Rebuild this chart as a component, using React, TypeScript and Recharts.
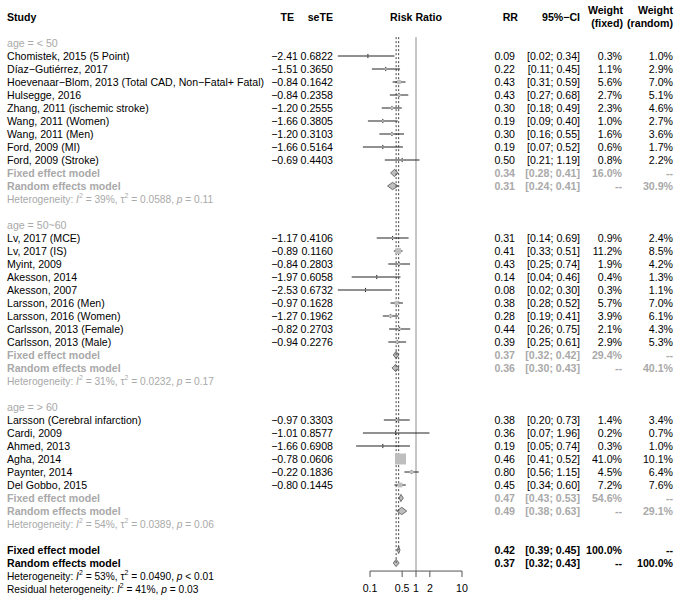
import React from "react";
import { ComposedChart, XAxis, YAxis, ZAxis, Scatter, ErrorBar, Area, ReferenceLine } from "recharts";

// study level values (as printed in the forest plot)
const studyNames = [
  "Chomistek, 2015 (5 Point)",
  "Díaz−Gutiérrez, 2017",
  "Hoevenaar−Blom, 2013 (Total CAD, Non−Fatal+ Fatal)",
  "Hulsegge, 2016",
  "Zhang, 2011 (ischemic stroke)",
  "Wang, 2011 (Women)",
  "Wang, 2011 (Men)",
  "Ford, 2009 (MI)",
  "Ford, 2009 (Stroke)",
  "Lv, 2017 (MCE)",
  "Lv, 2017 (IS)",
  "Myint, 2009",
  "Akesson, 2014",
  "Akesson, 2007",
  "Larsson, 2016 (Men)",
  "Larsson, 2016 (Women)",
  "Carlsson, 2013 (Female)",
  "Carlsson, 2013 (Male)",
  "Larsson (Cerebral infarction)",
  "Cardi, 2009",
  "Ahmed, 2013",
  "Agha, 2014",
  "Paynter, 2014",
  "Del Gobbo, 2015",
];
const teValues = [-2.41, -1.51, -0.84, -0.84, -1.2, -1.66, -1.2, -1.66, -0.69, -1.17, -0.89, -0.84, -1.97, -2.53, -0.97, -1.27, -0.82, -0.94, -0.97, -1.01, -1.66, -0.78, -0.22, -0.8];
const seTeValues = ["0.6822", "0.3650", "0.1642", "0.2358", "0.2555", "0.3805", "0.3103", "0.5164", "0.4403", "0.4106", "0.1160", "0.2803", "0.6058", "0.6732", "0.1628", "0.1962", "0.2703", "0.2276", "0.3303", "0.8577", "0.6908", "0.0606", "0.1836", "0.1445"];
const rrValues = [0.09, 0.22, 0.43, 0.43, 0.3, 0.19, 0.3, 0.19, 0.5, 0.31, 0.41, 0.43, 0.14, 0.08, 0.38, 0.28, 0.44, 0.39, 0.38, 0.36, 0.19, 0.46, 0.8, 0.45];
const ciLower = [0.02, 0.11, 0.31, 0.27, 0.18, 0.09, 0.16, 0.07, 0.21, 0.14, 0.33, 0.25, 0.04, 0.02, 0.28, 0.19, 0.26, 0.25, 0.2, 0.07, 0.05, 0.41, 0.56, 0.34];
const ciUpper = [0.34, 0.45, 0.59, 0.68, 0.49, 0.4, 0.55, 0.52, 1.19, 0.69, 0.51, 0.74, 0.46, 0.3, 0.52, 0.41, 0.75, 0.61, 0.73, 1.96, 0.74, 0.52, 1.15, 0.6];
const weightFixed = [0.3, 1.1, 5.6, 2.7, 2.3, 1.0, 1.6, 0.6, 0.8, 0.9, 11.2, 1.9, 0.4, 0.3, 5.7, 3.9, 2.1, 2.9, 1.4, 0.2, 0.3, 41.0, 4.5, 7.2];
const weightRandom = [1.0, 2.9, 7.0, 5.1, 4.6, 2.7, 3.6, 1.7, 2.2, 2.4, 8.5, 4.2, 1.3, 1.1, 7.0, 6.1, 4.3, 5.3, 3.4, 0.7, 1.0, 10.1, 6.4, 7.6];

// subgroups
const groupLabels = ["age = < 50", "age = 50~60", "age = > 60"];
const groupSizes = [9, 9, 6];
const groupFixedRR = [0.34, 0.37, 0.47];
const groupFixedLower = [0.28, 0.32, 0.43];
const groupFixedUpper = [0.41, 0.42, 0.53];
const groupFixedWeight = [16.0, 29.4, 54.6];
const groupRandomRR = [0.31, 0.36, 0.49];
const groupRandomLower = [0.24, 0.3, 0.38];
const groupRandomUpper = [0.41, 0.43, 0.63];
const groupRandomWeight = [30.9, 40.1, 29.1];
const groupI2 = ["39%", "31%", "54%"];
const groupTau2 = ["0.0588", "0.0232", "0.0389"];
const groupP = ["= 0.11", "= 0.17", "= 0.06"];

// overall
const overallFixed = [0.42, 0.39, 0.45];
const overallRandom = [0.37, 0.32, 0.43];
const overallHet = ["53%", "0.0490", "< 0.01"];
const residualHet = ["41%", "= 0.03"];

const axisTicks = [0.1, 0.5, 1, 2, 10];

// layout
const W = 676;
const H = 598;
const ROW_H = 13;
const FIRST_Y = 17;
const Y_MIN = -FIRST_Y / ROW_H;
const Y_MAX = Y_MIN + H / ROW_H;
const PLOT_LEFT = 324;
const PLOT_RIGHT = 462;
const X_MIN = 0.01;
const X_MAX = 10;
const PX_PER_DECADE = (PLOT_RIGHT - PLOT_LEFT) / Math.log10(X_MAX / X_MIN);
const MAX_SQUARE = 11;
const LINE_TOP = 1.55;
const AXIS_R = 42.62;
const DIAMOND_H = 0.28;

const FONT = "'Liberation Sans', Arial, Helvetica, sans-serif";
const FS = 10.6;
const HET_FS = 10.2;
const GREY = "#a9a9a9";

type Row = { r: number; kind: string; i?: number; g?: number };

const rows: Row[] = [{ r: 0, kind: "header" }];
{
  let r = 2;
  let s = 0;
  groupSizes.forEach((n, g) => {
    rows.push({ r: r++, kind: "group", g });
    for (let k = 0; k < n; k++) rows.push({ r: r++, kind: "study", i: s++ });
    rows.push({ r: r++, kind: "fixed", g });
    rows.push({ r: r++, kind: "random", g });
    rows.push({ r: r++, kind: "het", g });
    r++;
  });
  rows.push({ r: r++, kind: "ofixed" });
  rows.push({ r: r++, kind: "orandom" });
  rows.push({ r: r++, kind: "ohet" });
  rows.push({ r: r++, kind: "resid" });
}
const rowByIndex = new Map(rows.map((row) => [row.r, row]));
const rowTicks = rows.map((row) => row.r);

const studyPoints = rows
  .filter((row) => row.kind === "study")
  .map((row) => {
    const i = row.i as number;
    const side = MAX_SQUARE * Math.sqrt(weightFixed[i] / 41);
    const ciPx = PX_PER_DECADE * Math.log10(ciUpper[i] / ciLower[i]);
    return {
      x: rrValues[i],
      y: row.r,
      w: weightFixed[i],
      ciErr: [rrValues[i] - ciLower[i], ciUpper[i] - rrValues[i]],
      tickErr: [0.16, 0.16],
      inside: ciPx < side,
    };
  });

function diamond(est: number, lo: number, hi: number, r: number) {
  return [
    { x: lo, band: [r, r] },
    { x: est, band: [r - DIAMOND_H, r + DIAMOND_H] },
    { x: hi, band: [r, r] },
  ];
}

const diamonds: { x: number; band: number[] }[][] = [];
rows.forEach((row) => {
  if (row.kind === "fixed") {
    const g = row.g as number;
    diamonds.push(diamond(groupFixedRR[g], groupFixedLower[g], groupFixedUpper[g], row.r));
  } else if (row.kind === "random") {
    const g = row.g as number;
    diamonds.push(diamond(groupRandomRR[g], groupRandomLower[g], groupRandomUpper[g], row.r));
  } else if (row.kind === "ofixed") {
    diamonds.push(diamond(overallFixed[0], overallFixed[1], overallFixed[2], row.r));
  } else if (row.kind === "orandom") {
    diamonds.push(diamond(overallRandom[0], overallRandom[1], overallRandom[2], row.r));
  }
});

const fmtTE = (v: number) => (v < 0 ? "−" : "") + Math.abs(v).toFixed(2);
const fmtCI = (lo: number, hi: number) => `[${lo.toFixed(2)}; ${hi.toFixed(2)}]`;
const fmtW = (w: number) => `${w.toFixed(1)}%`;

function HetText({ y, i2, tau2, p, color }: { y: number; i2: string; tau2?: string; p: string; color: string }) {
  const sup = HET_FS * 0.68;
  const up = HET_FS * 0.4;
  return (
    <text x={7} y={y} dy="0.35em" fontSize={HET_FS} fill={color} fontFamily={FONT}>
      <tspan>{tau2 === undefined ? "Residual heterogeneity: " : "Heterogeneity: "}</tspan>
      <tspan fontStyle="italic">I</tspan>
      <tspan dy={-up} fontSize={sup}>2</tspan>
      <tspan dy={up}>{` = ${i2}, `}</tspan>
      {tau2 !== undefined && (
        <>
          <tspan>τ</tspan>
          <tspan dy={-up} fontSize={sup}>2</tspan>
          <tspan dy={up}>{` = ${tau2}, `}</tspan>
        </>
      )}
      <tspan fontStyle="italic">p</tspan>
      <tspan>{` ${p}`}</tspan>
    </text>
  );
}

function T(props: any) {
  const { children, ...rest } = props;
  return (
    <text dy="0.35em" fontSize={FS} fontFamily={FONT} fill="#000" {...rest}>
      {children}
    </text>
  );
}

function LeftTick({ y, payload }: any) {
  const row = rowByIndex.get(payload.value);
  if (!row) return null;
  switch (row.kind) {
    case "header":
      return (
        <g>
          <T x={7} y={y} fontWeight="bold">Study</T>
          <T x={294} y={y} textAnchor="end" fontWeight="bold">TE</T>
          <T x={333} y={y} textAnchor="end" fontWeight="bold">seTE</T>
          <T x={416} y={y} textAnchor="middle" fontWeight="bold">Risk Ratio</T>
        </g>
      );
    case "group":
      return <T x={7} y={y} fill={GREY}>{groupLabels[row.g as number]}</T>;
    case "study": {
      const i = row.i as number;
      return (
        <g>
          <T x={7} y={y}>{studyNames[i]}</T>
          <T x={298} y={y} textAnchor="end">{fmtTE(teValues[i])}</T>
          <T x={333} y={y} textAnchor="end">{seTeValues[i]}</T>
        </g>
      );
    }
    case "fixed":
      return <T x={7} y={y} fill={GREY} fontWeight="bold">Fixed effect model</T>;
    case "random":
      return <T x={7} y={y} fill={GREY} fontWeight="bold">Random effects model</T>;
    case "het": {
      const g = row.g as number;
      return <HetText y={y} i2={groupI2[g]} tau2={groupTau2[g]} p={groupP[g]} color={GREY} />;
    }
    case "ofixed":
      return <T x={7} y={y} fontWeight="bold">Fixed effect model</T>;
    case "orandom":
      return <T x={7} y={y} fontWeight="bold">Random effects model</T>;
    case "ohet":
      return <HetText y={y} i2={overallHet[0]} tau2={overallHet[1]} p={overallHet[2]} color="#000" />;
    case "resid":
      return <HetText y={y} i2={residualHet[0]} p={residualHet[1]} color="#000" />;
  }
  return null;
}

function RightTick({ y, payload }: any) {
  const row = rowByIndex.get(payload.value);
  if (!row) return null;
  const cols = (rr: number, lo: number, hi: number, wf: string, wr: string, fill: string, bold: boolean) => (
    <g fontWeight={bold ? "bold" : "normal"}>
      <T x={515} y={y} textAnchor="end" fill={fill}>{rr.toFixed(2)}</T>
      <T x={580} y={y} textAnchor="end" fill={fill}>{fmtCI(lo, hi)}</T>
      <T x={622} y={y} textAnchor="end" fill={fill}>{wf}</T>
      <T x={673} y={y} textAnchor="end" fill={fill}>{wr}</T>
    </g>
  );
  switch (row.kind) {
    case "header":
      return (
        <g fontWeight="bold">
          <T x={518} y={y} textAnchor="end">RR</T>
          <T x={580} y={y} textAnchor="end">95%−CI</T>
          <T x={623} y={y - 7} textAnchor="end">Weight</T>
          <T x={623} y={y + 6} textAnchor="end">(fixed)</T>
          <T x={673} y={y - 7} textAnchor="end">Weight</T>
          <T x={673} y={y + 6} textAnchor="end">(random)</T>
        </g>
      );
    case "study": {
      const i = row.i as number;
      return cols(rrValues[i], ciLower[i], ciUpper[i], fmtW(weightFixed[i]), fmtW(weightRandom[i]), "#000", false);
    }
    case "fixed": {
      const g = row.g as number;
      return cols(groupFixedRR[g], groupFixedLower[g], groupFixedUpper[g], fmtW(groupFixedWeight[g]), "--", GREY, true);
    }
    case "random": {
      const g = row.g as number;
      return cols(groupRandomRR[g], groupRandomLower[g], groupRandomUpper[g], "--", fmtW(groupRandomWeight[g]), GREY, true);
    }
    case "ofixed":
      return cols(overallFixed[0], overallFixed[1], overallFixed[2], "100.0%", "--", "#000", true);
    case "orandom":
      return cols(overallRandom[0], overallRandom[1], overallRandom[2], "--", "100.0%", "#000", true);
  }
  return null;
}

const Nothing = () => <g />;

export default function App() {
  const outside = studyPoints.filter((p) => !p.inside);
  const inside = studyPoints.filter((p) => p.inside);
  return (
    <div style={{ position: "absolute", left: 0, top: 0, width: W, height: H, background: "#fff" }}>
      <ComposedChart width={W} height={H} margin={{ top: 0, right: 0, bottom: 0, left: 0 }}>
        <XAxis dataKey="x" type="number" scale="log" domain={[X_MIN, X_MAX]} allowDataOverflow hide />
        <YAxis
          yAxisId="left"
          dataKey="y"
          type="number"
          reversed
          domain={[Y_MIN, Y_MAX]}
          allowDataOverflow
          ticks={rowTicks}
          interval={0}
          width={PLOT_LEFT}
          axisLine={false}
          tickLine={false}
          tick={<LeftTick />}
        />
        <YAxis
          yAxisId="right"
          orientation="right"
          type="number"
          reversed
          domain={[Y_MIN, Y_MAX]}
          allowDataOverflow
          ticks={rowTicks}
          interval={0}
          width={W - PLOT_RIGHT}
          axisLine={false}
          tickLine={false}
          tick={<RightTick />}
        />
        <ZAxis dataKey="w" type="number" domain={[0, 41]} range={[0, MAX_SQUARE * MAX_SQUARE]} />

        <ReferenceLine yAxisId="left" segment={[{ x: 1, y: LINE_TOP }, { x: 1, y: AXIS_R }]} stroke="#8c8c8c" strokeWidth={1} />
        <ReferenceLine yAxisId="left" segment={[{ x: overallFixed[0], y: LINE_TOP }, { x: overallFixed[0], y: 41 }]} stroke="#444" strokeDasharray="2 2" />
        <ReferenceLine yAxisId="left" segment={[{ x: overallRandom[0], y: LINE_TOP }, { x: overallRandom[0], y: 42 }]} stroke="#444" strokeDasharray="2 2" />

        <Scatter yAxisId="left" data={studyPoints} shape="square" fill="#bebebe" isAnimationActive={false} />
        <Scatter yAxisId="left" data={outside} shape={Nothing} isAnimationActive={false}>
          <ErrorBar dataKey="ciErr" direction="x" width={0} stroke="#222" strokeWidth={1} isAnimationActive={false} />
          <ErrorBar dataKey="tickErr" direction="y" width={0} stroke="#222" strokeWidth={1} isAnimationActive={false} />
        </Scatter>
        <Scatter yAxisId="left" data={inside} shape={Nothing} isAnimationActive={false}>
          <ErrorBar dataKey="ciErr" direction="x" width={0} stroke="#fff" strokeWidth={1} isAnimationActive={false} />
          <ErrorBar dataKey="tickErr" direction="y" width={0} stroke="#fff" strokeWidth={1} isAnimationActive={false} />
        </Scatter>

        {diamonds.map((d, k) => (
          <Area
            key={k}
            yAxisId="left"
            data={d}
            dataKey="band"
            type="linear"
            stroke="#555"
            strokeWidth={0.8}
            fill="#bebebe"
            fillOpacity={1}
            dot={false}
            activeDot={false}
            isAnimationActive={false}
          />
        ))}

        <ReferenceLine yAxisId="left" segment={[{ x: axisTicks[0], y: AXIS_R }, { x: axisTicks[axisTicks.length - 1], y: AXIS_R }]} stroke="#555" />
        {axisTicks.map((t) => (
          <ReferenceLine
            key={t}
            yAxisId="left"
            segment={[{ x: t, y: AXIS_R }, { x: t, y: AXIS_R + 0.46 }]}
            stroke="#555"
            label={{ value: String(t), position: "bottom", offset: 7, fontSize: FS, fill: "#000", fontFamily: FONT }}
          />
        ))}
      </ComposedChart>
    </div>
  );
}
